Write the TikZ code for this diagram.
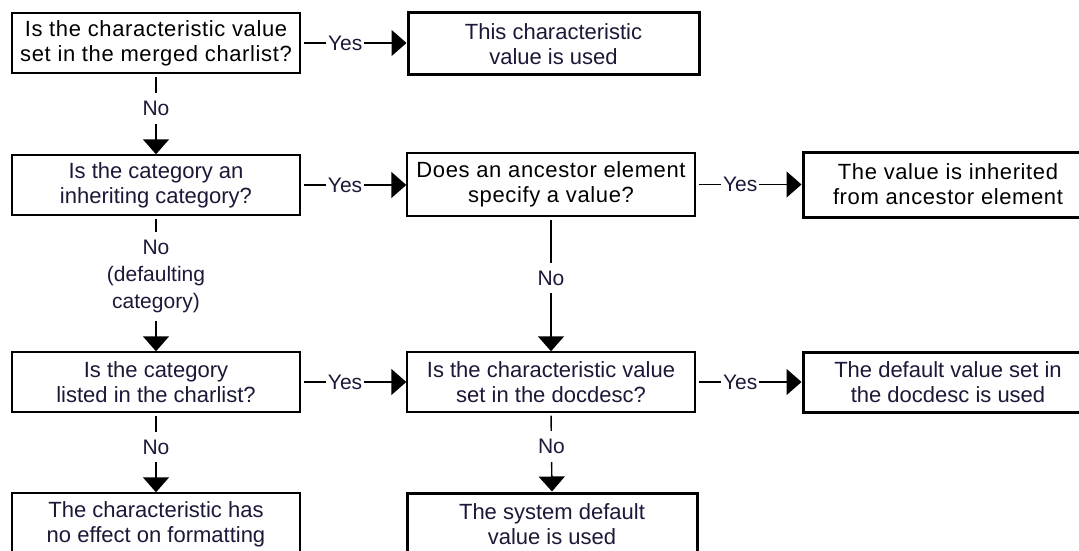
\documentclass[tikz,border=0pt]{standalone}
\usepackage{fontspec}
\setmainfont{Liberation Sans}
\newfontfamily\widefont[LetterSpace=2.8]{Liberation Sans}
\usetikzlibrary{arrows.meta}
\definecolor{ink}{HTML}{1E1838}
\begin{document}
\begin{tikzpicture}[x=1pt,y=-1pt,
  box/.style={draw=black, line width=1.4pt, rectangle, minimum width=288pt,
    minimum height=60pt, inner sep=0pt, align=center,
    font=\fontsize{22}{25}\selectfont, text=ink},
  widebox/.style={box, font=\widefont\fontsize{22}{25}\selectfont, text=black},
  thickbox/.style={line width=3pt},
  conn/.style={line width=1.4pt, -{Triangle[length=15pt,width=26pt]}, shorten <=3pt},
  lbl/.style={fill=white, font=\fontsize{21}{27}\selectfont, text=ink,
    inner xsep=2pt, inner ysep=8pt, align=center},
]
\clip (0,0) rectangle (1079,551);
\fill[white] (0,0) rectangle (1079,551);

% row 1
\node[widebox] (A) at (156,43) {Is the characteristic value\\set in the merged charlist?};
\node[box, thickbox, minimum width=291pt, minimum height=62pt] (B) at (553.5,44) {This characteristic\\value is used};

% row 2
\node[box] (C) at (156,185) {Is the category an\\inheriting category?};
\node[widebox, minimum height=63pt] (D) at (551,184.5) {Does an ancestor element\\specify a value?};
\node[widebox, thickbox, minimum width=290pt, minimum height=65pt] (E) at (948,184.5) {The value is inherited\\from ancestor element};

% row 3
\node[box] (F) at (156,382) {Is the category\\listed in the charlist?};
\node[box] (G) at (551,382) {Is the characteristic value\\set in the docdesc?};
\node[box, thickbox, minimum width=290pt] (H) at (948,382) {The default value set in\\the docdesc is used};

% row 4 (cut off at the bottom)
\node[box, minimum height=62pt] (I) at (156,524) {The characteristic has\\no effect on formatting};
\node[box, thickbox, minimum width=290pt, minimum height=62pt] (J) at (552,524) {The system default\\value is used};

% connectors
\draw[conn] (A.east) -- node[lbl,pos=0.42]{Yes} (A.east -| B.west);
\draw[conn] (A.south) -- node[lbl,pos=0.43]{No} (C.north);
\draw[conn] (C.east) -- node[lbl,pos=0.42]{Yes} (C.east -| D.west);
\draw[conn] (D.east) -- node[lbl,pos=0.42]{Yes} (D.east -| E.west);
\draw[conn] (C.south) -- node[lbl,pos=0.45]{No\\(defaulting\\category)} (F.north);
\draw[conn] (D.south) -- node[lbl,pos=0.456]{No} (G.north);
\draw[conn] (F.east) -- node[lbl,pos=0.42]{Yes} (F.east -| G.west);
\draw[conn] (G.east) -- node[lbl,pos=0.42]{Yes} (G.east -| H.west);
\draw[conn] (F.south) -- node[lbl,pos=0.43]{No} (I.north);
\draw[conn] (G.south) -- node[lbl,pos=0.43]{No} (J.north);
\end{tikzpicture}
\end{document}
